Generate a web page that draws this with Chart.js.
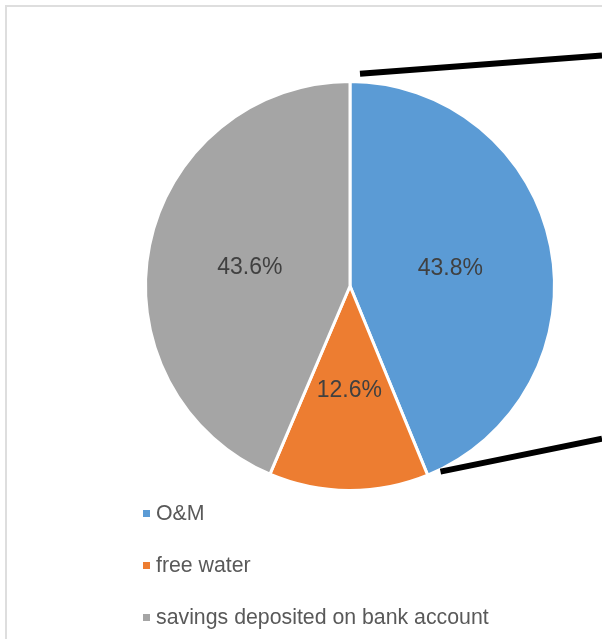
<!DOCTYPE html>
<html>
<head>
<meta charset="utf-8">
<script src="https://cdn.jsdelivr.net/npm/chart.js@4.4.0/dist/chart.umd.min.js"></script>
<style>
    body { margin: 0; background: #ffffff; }
    #moldura { position: absolute; left: 5px; top: 5px; width: 700px; height: 700px; border: 2px solid #dedede; }
    #caixa { position: absolute; left: 0; top: 0; width: 602px; height: 639px; }
    #legenda { position: absolute; left: 143px; top: 500px; font-family: "Liberation Sans", Arial, sans-serif; font-size: 21.3px; color: #595959; }
    .item-legenda { height: 52px; line-height: 26px; white-space: nowrap; }
    .quadrado { display: inline-block; width: 7px; height: 7px; margin-right: 6px; vertical-align: 3px; }
</style>
</head>
<body>
<div id="moldura"></div>
<div id="caixa"><canvas id="pizza" width="602" height="639"></canvas></div>
<div id="legenda"></div>
<script>
var categorias = ["O&M", "free water", "savings deposited on bank account"];
var valores = [43.8, 12.6, 43.6];
var cores = ["#5B9BD5", "#ED7D31", "#A5A5A5"];

// rotulos com a porcentagem no meio de cada fatia
var pluginRotulos = {
    id: 'rotulos',
    afterDatasetsDraw: function (chart) {
        var ctx = chart.ctx;
        var meta = chart.getDatasetMeta(0);
        ctx.save();
        ctx.font = '23px "Liberation Sans", Arial, sans-serif';
        ctx.fillStyle = '#404040';
        ctx.textAlign = 'center';
        ctx.textBaseline = 'middle';
        for (let i = 0; i < meta.data.length; i++) {
            var pos = meta.data[i].tooltipPosition();
            ctx.fillText(valores[i].toFixed(1) + '%', pos.x, pos.y + 2);
        }
        ctx.restore();
    }
};

// linhas pretas que ligam a fatia O&M ao grafico de barras (fora da imagem)
var pluginLinhas = {
    id: 'linhas',
    afterDraw: function (chart) {
        var ctx = chart.ctx;
        var arco = chart.getDatasetMeta(0).data[0];
        var r = arco.outerRadius;
        var a1 = arco.startAngle + 0.047;
        var a2 = arco.endAngle - 0.064;
        var x1 = arco.x + Math.cos(a1) * (r + 8), y1 = arco.y + Math.sin(a1) * (r + 8);
        var x2 = arco.x + Math.cos(a2) * (r + 2), y2 = arco.y + Math.sin(a2) * (r + 2);
        var fim = chart.width;
        ctx.save();
        ctx.strokeStyle = '#000000';
        ctx.lineWidth = 6;
        ctx.beginPath();
        ctx.moveTo(x1, y1);
        ctx.lineTo(fim, y1 - (fim - x1) * 0.075);
        ctx.moveTo(x2, y2);
        ctx.lineTo(fim, y2 - (fim - x2) * 0.204);
        ctx.stroke();
        ctx.restore();
    }
};

var grafico = new Chart(document.getElementById('pizza'), {
    type: 'pie',
    data: {
        labels: categorias,
        datasets: [{
            data: valores,
            backgroundColor: cores,
            borderColor: '#ffffff',
            borderWidth: 3
        }]
    },
    options: {
        responsive: false,
        animation: false,
        layout: { padding: { left: 144, right: 46, top: 80, bottom: 147 } },
        plugins: {
            legend: { display: false },
            tooltip: { enabled: false }
        }
    },
    plugins: [pluginRotulos, pluginLinhas]
});

var legenda = document.getElementById('legenda');
for (let i = 0; i < categorias.length; i++) {
    legenda.innerHTML += `
        <div class="item-legenda"><span class="quadrado" style="background:${cores[i]}"></span>${categorias[i]}</div>
    `;
}
</script>
</body>
</html>
